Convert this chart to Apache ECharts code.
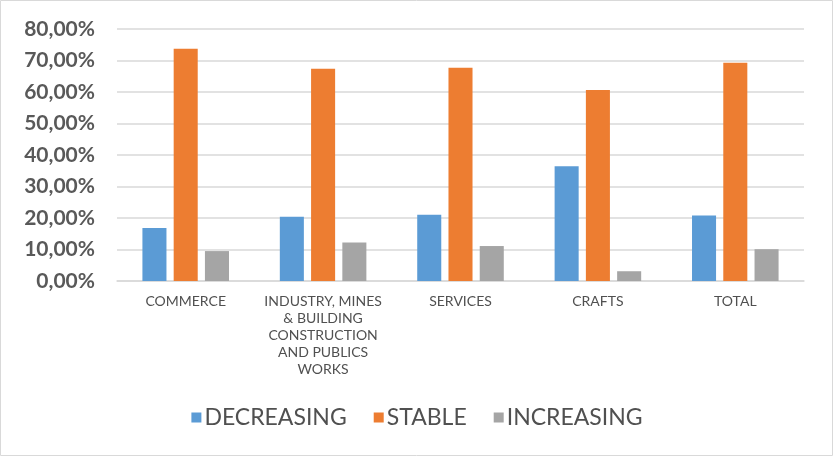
<!DOCTYPE html>
<html>
<head>
<meta charset="utf-8">
<script src="https://cdn.jsdelivr.net/npm/echarts@6/dist/echarts.min.js"></script>
<style>
  html, body { margin: 0; padding: 0; background: #fff; }
  #chart { width: 834px; height: 457px; }
</style>
</head>
<body>
<div id="chart"></div>
<script>
// Business activity trend by sector (share of firms, %)
const categories = [
  'COMMERCE',
  'INDUSTRY, MINES\n& BUILDING\nCONSTRUCTION\nAND PUBLICS\nWORKS',
  'SERVICES',
  'CRAFTS',
  'TOTAL'
];
const decreasing = [16.8, 20.4, 21.0, 36.4, 20.8];
const stable     = [73.7, 67.4, 67.7, 60.6, 69.3];
const increasing = [9.5, 12.2, 11.1, 3.1, 10.1];
const seriesNames = ['DECREASING', 'STABLE', 'INCREASING'];
const colors = ['#5b9bd5', '#ed7d31', '#a5a5a5'];

const fontFamily = "Lato, 'Open Sans', sans-serif";

const chart = echarts.init(document.getElementById('chart'));

function barSeries(name, data, color) {
  return {
    name: name,
    type: 'bar',
    data: data,
    barGap: '30%',
    barCategoryGap: '37%',
    itemStyle: { color: color },
    emphasis: { disabled: true }
  };
}

chart.setOption({
  animation: false,
  color: colors,
  graphic: [{
    type: 'rect',
    shape: { x: 0.5, y: 0.5, width: 832, height: 455 },
    style: { fill: 'none', stroke: '#d9d9d9', lineWidth: 1 },
    silent: true
  }],
  grid: { left: 117, right: 30, top: 29, bottom: 176 },
  legend: {
    data: seriesNames,
    bottom: 23,
    left: 'center',
    icon: 'rect',
    itemWidth: 10,
    itemHeight: 10,
    itemGap: 27,
    textStyle: { fontFamily: fontFamily, fontSize: 23, color: '#505050', padding: [0, 0, 0, -2] }
  },
  xAxis: {
    type: 'category',
    data: categories,
    axisTick: { show: false },
    axisLine: { lineStyle: { color: '#d9d9d9', width: 1.5 } },
    axisLabel: {
      fontFamily: fontFamily,
      fontSize: 14,
      color: '#505050',
      lineHeight: 17,
      margin: 12,
      interval: 0
    }
  },
  yAxis: {
    type: 'value',
    min: 0,
    max: 80,
    interval: 10,
    axisLine: { show: false },
    axisTick: { show: false },
    splitLine: { lineStyle: { color: '#d9d9d9', width: 1.5 } },
    axisLabel: {
      fontFamily: fontFamily,
      fontSize: 21,
      fontWeight: 'bold',
      color: '#595959',
      margin: 22,
      formatter: v => v.toFixed(2).replace('.', ',') + '%'
    }
  },
  series: [
    barSeries(seriesNames[0], decreasing, colors[0]),
    barSeries(seriesNames[1], stable, colors[1]),
    barSeries(seriesNames[2], increasing, colors[2])
  ]
});
</script>
</body>
</html>
